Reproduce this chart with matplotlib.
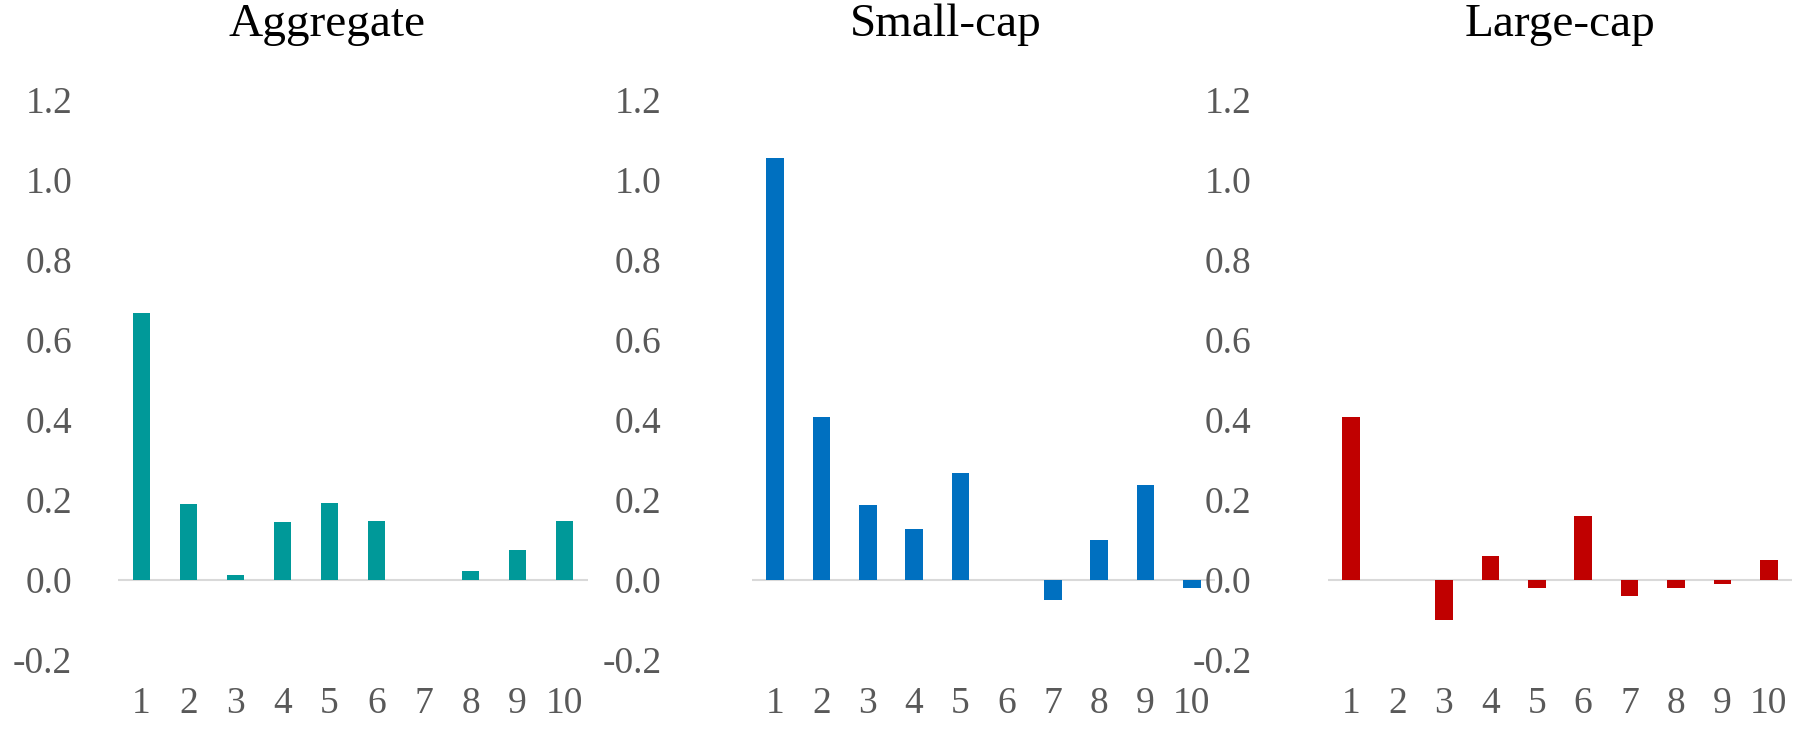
import numpy as np
import matplotlib.pyplot as plt

# ── Data ──────────────────────────────────────────────────────────────────────
deciles   = [1, 2, 3, 4, 5, 6, 7, 8, 9, 10]
aggregate = [0.667, 0.190, 0.012, 0.144, 0.193, 0.148, 0.0, 0.022, 0.075, 0.147]
small_cap = [1.055, 0.408, 0.188, 0.128, 0.268, 0.0, -0.050, 0.099, 0.238, -0.020]
large_cap = [0.408, 0.0, -0.100, 0.060, -0.021, 0.160, -0.041, -0.021, -0.010, 0.049]
titles    = ['Aggregate', 'Small-cap', 'Large-cap']
y_ticks   = [-0.2, 0.0, 0.2, 0.4, 0.6, 0.8, 1.0, 1.2]

# ── Layout (pixels on a 1799x730 canvas) ──────────────────────────────────────
W, H = 1799, 730
panels = [
    # (series, colour, left px, right px, y-label pad pt, title centre px)
    (aggregate, '#009999', 118, 588, 33, 327),
    (small_cap, '#0070C0', 752, 1215, 65, 946),
    (large_cap, '#C00000', 1328, 1792, 55, 1560),
]
TOP, BOTTOM = 100, 660

plt.rcParams['font.family'] = ['Liberation Serif', 'DejaVu Serif']

fig = plt.figure(figsize=(W / 100, H / 100), dpi=100)

for (vals, color, x0, x1, ypad, tx), title in zip(panels, titles):
    ax = fig.add_axes([x0 / W, 1 - BOTTOM / H, (x1 - x0) / W, (BOTTOM - TOP) / H])
    ax.bar(deciles, vals, width=0.38, color=color, zorder=3)
    ax.axhline(0, color='#d9d9d9', linewidth=1.5, zorder=2)
    ax.set_xlim(0.5, 10.5)
    ax.set_ylim(-0.2, 1.2)
    ax.set_yticks(y_ticks)
    ax.set_yticklabels([f'{v:.1f}' for v in y_ticks])
    ax.set_xticks(deciles)
    ax.set_xticklabels([str(d) for d in deciles])
    ax.tick_params(axis='y', length=0, pad=ypad, labelsize=27, labelcolor='#595959')
    ax.tick_params(axis='x', length=0, pad=19, labelsize=27, labelcolor='#595959')
    for s in ax.spines.values():
        s.set_visible(False)
    fig.text(tx / W, 1 - 25 / H, title, ha='center', va='center', fontsize=34, color='black')

fig.savefig('out.png', dpi=100)
